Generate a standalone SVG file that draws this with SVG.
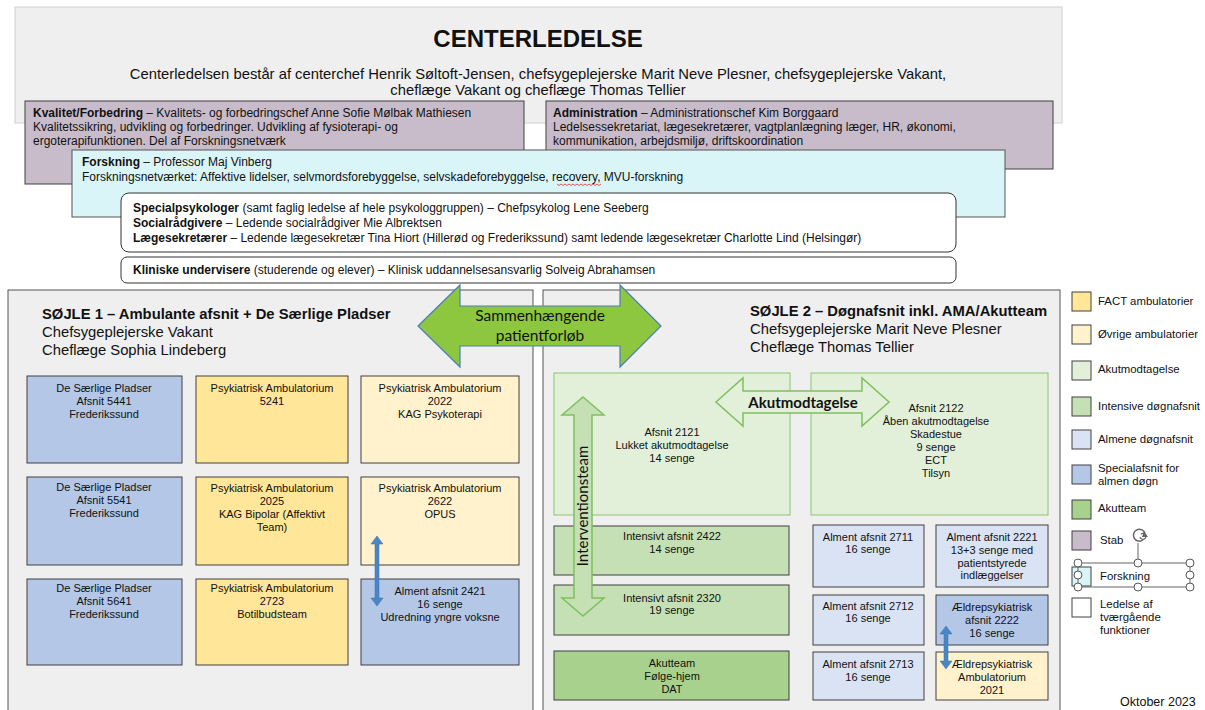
<svg xmlns="http://www.w3.org/2000/svg" width="1205" height="710" viewBox="0 0 1205 710">
<defs>
<style>
text{font-family:"Liberation Sans",Arial,sans-serif;fill:#111}
.b{font-weight:bold}
.s12{font-size:12px}
.s14{font-size:14.8px}
.bx{font-size:11px;text-anchor:middle}
.lg{font-size:11.4px}
.box{stroke:#404040;stroke-width:1}
.fact{fill:#ffe699}
.ovr{fill:#fff2cc}
.akm{fill:#e2f0d9}
.int{fill:#c5e0b4}
.alm{fill:#dae3f3}
.spc{fill:#b4c7e7}
.akt{fill:#a9d18e}
.stab{fill:#c8bccb}
.fors{fill:#d9f5f8}
.cal{font-family:Lato,"Open Sans",sans-serif}
.hd{fill:#fff;stroke:#555;stroke-width:1}
</style>
</defs>

<g id="centerledelse">
<rect x="15" y="7" width="1047" height="116" fill="#efefef" stroke="#d0d0d0"/>
<text x="538" y="47" text-anchor="middle" class="b" font-size="24">CENTERLEDELSE</text>
<text x="538" y="79" text-anchor="middle" class="s14">Centerledelsen består af centerchef Henrik Søltoft-Jensen, chefsygeplejerske Marit Neve Plesner, chefsygeplejerske Vakant,</text>
<text x="538" y="95" text-anchor="middle" class="s14">cheflæge Vakant og cheflæge Thomas Tellier</text>
</g>

<g id="kvalitet">
<rect x="25" y="101" width="499" height="83" class="box stab"/>
<text x="33" y="117" class="s12"><tspan class="b">Kvalitet/Forbedring</tspan> – Kvalitets- og forbedringschef Anne Sofie Mølbak Mathiesen</text>
<text x="33" y="131" class="s12">Kvalitetssikring, udvikling og forbedringer. Udvikling af fysioterapi- og</text>
<text x="33" y="145" class="s12">ergoterapifunktionen. Del af Forskningsnetværk</text>
</g>

<g id="administration">
<rect x="546" y="101" width="507" height="68" class="box stab"/>
<text x="553" y="117" class="s12"><tspan class="b">Administration</tspan> – Administrationschef Kim Borggaard</text>
<text x="553" y="131" class="s12">Ledelsessekretariat, lægesekretærer, vagtplanlægning læger, HR, økonomi,</text>
<text x="553" y="145" class="s12">kommunikation, arbejdsmiljø, driftskoordination</text>
</g>

<g id="forskning">
<rect x="72" y="150" width="933" height="67" class="fors" stroke="#555" stroke-width="1"/>
<text x="82" y="166" class="s12"><tspan class="b">Forskning</tspan> – Professor Maj Vinberg</text>
<text x="82" y="181" class="s12">Forskningsnetværket: Affektive lidelser, selvmordsforebyggelse, selvskadeforebyggelse, recovery, MVU-forskning</text>
<path d="M557 184 l2 1.5 l2 -1.5 l2 1.5 l2 -1.5 l2 1.5 l2 -1.5 l2 1.5 l2 -1.5 l2 1.5 l2 -1.5 l2 1.5 l2 -1.5 l2 1.5 l2 -1.5 l2 1.5 l2 -1.5 l2 1.5 l2 -1.5 l2 1.5 l2 -1.5 l2 1.5 l2 -1.5" fill="none" stroke="#e03030" stroke-width="0.8"/>
</g>

<g id="tvaergaaende">
<rect x="121" y="193" width="835" height="59" rx="8" fill="#fff" stroke="#333"/>
<text x="133" y="212" class="s12"><tspan class="b">Specialpsykologer</tspan> (samt faglig ledelse af hele psykologgruppen) – Chefpsykolog Lene Seeberg</text>
<text x="133" y="227" class="s12"><tspan class="b">Socialrådgivere</tspan> – Ledende socialrådgiver Mie Albrektsen</text>
<text x="133" y="242" class="s12"><tspan class="b">Lægesekretærer</tspan> – Ledende lægesekretær Tina Hiort (Hillerød og Frederikssund) samt ledende lægesekretær Charlotte Lind (Helsingør)</text>
</g>

<g id="kliniske">
<rect x="121" y="257" width="835" height="26" rx="6" fill="#fff" stroke="#333"/>
<text x="133" y="274" class="s12"><tspan class="b">Kliniske undervisere</tspan> (studerende og elever) – Klinisk uddannelsesansvarlig Solveig Abrahamsen</text>
</g>

<g id="soejle1">
<rect x="8" y="290" width="525" height="425" fill="#efefef" stroke="#555"/>
<text x="42" y="319" class="b s14">SØJLE 1 – Ambulante afsnit + De Særlige Pladser</text>
<text x="42" y="337" class="s14">Chefsygeplejerske Vakant</text>
<text x="42" y="355" class="s14">Cheflæge Sophia Lindeberg</text>
</g>

<g id="soejle2">
<rect x="543" y="290" width="517" height="425" fill="#efefef" stroke="#555"/>
<text x="750" y="316" class="b s14">SØJLE 2 – Døgnafsnit inkl. AMA/Akutteam</text>
<text x="750" y="334" class="s14">Chefsygeplejerske Marit Neve Plesner</text>
<text x="750" y="352" class="s14">Cheflæge Thomas Tellier</text>
</g>

<g id="afsnit5441">
<rect x="27" y="376" width="155" height="87" class="box spc"/>
<text class="bx" x="104" y="392">De Særlige Pladser</text>
<text class="bx" x="104" y="405">Afsnit 5441</text>
<text class="bx" x="104" y="418">Frederikssund</text>
</g>
<g id="amb5241">
<rect x="196" y="376" width="152" height="87" class="box fact"/>
<text class="bx" x="272" y="392">Psykiatrisk Ambulatorium</text>
<text class="bx" x="272" y="405">5241</text>
</g>
<g id="amb2022">
<rect x="361" y="376" width="158" height="87" class="box ovr"/>
<text class="bx" x="440" y="392">Psykiatrisk Ambulatorium</text>
<text class="bx" x="440" y="405">2022</text>
<text class="bx" x="440" y="418">KAG Psykoterapi</text>
</g>

<g id="afsnit5541">
<rect x="27" y="477" width="155" height="88" class="box spc"/>
<text class="bx" x="104" y="491">De Særlige Pladser</text>
<text class="bx" x="104" y="504">Afsnit 5541</text>
<text class="bx" x="104" y="517">Frederikssund</text>
</g>
<g id="amb2025">
<rect x="196" y="477" width="152" height="88" class="box fact"/>
<text class="bx" x="272" y="492">Psykiatrisk Ambulatorium</text>
<text class="bx" x="272" y="505">2025</text>
<text class="bx" x="272" y="518">KAG Bipolar (Affektivt</text>
<text class="bx" x="272" y="531">Team)</text>
</g>
<g id="amb2622">
<rect x="361" y="477" width="158" height="88" class="box ovr"/>
<text class="bx" x="440" y="492">Psykiatrisk Ambulatorium</text>
<text class="bx" x="440" y="505">2622</text>
<text class="bx" x="440" y="518">OPUS</text>
</g>

<g id="afsnit5641">
<rect x="27" y="579" width="155" height="86" class="box spc"/>
<text class="bx" x="104" y="592">De Særlige Pladser</text>
<text class="bx" x="104" y="605">Afsnit 5641</text>
<text class="bx" x="104" y="618">Frederikssund</text>
</g>
<g id="amb2723">
<rect x="196" y="579" width="152" height="86" class="box fact"/>
<text class="bx" x="272" y="592">Psykiatrisk Ambulatorium</text>
<text class="bx" x="272" y="605">2723</text>
<text class="bx" x="272" y="618">Botilbudsteam</text>
</g>
<g id="afsnit2421">
<rect x="361" y="579" width="158" height="86" class="box spc"/>
<text class="bx" x="440" y="595">Alment afsnit 2421</text>
<text class="bx" x="440" y="608">16 senge</text>
<text class="bx" x="440" y="621">Udredning yngre voksne</text>
</g>

<g id="afsnit2121">
<rect x="554" y="373" width="236" height="142" class="akm" stroke="#8cc66e"/>
<text class="bx" x="672" y="436">Afsnit 2121</text>
<text class="bx" x="672" y="449">Lukket akutmodtagelse</text>
<text class="bx" x="672" y="462">14 senge</text>
</g>
<g id="afsnit2122">
<rect x="811" y="373" width="237" height="142" class="akm" stroke="#8cc66e"/>
<text class="bx" x="936" y="412">Afsnit 2122</text>
<text class="bx" x="936" y="425">Åben akutmodtagelse</text>
<text class="bx" x="936" y="438">Skadestue</text>
<text class="bx" x="936" y="451">9 senge</text>
<text class="bx" x="936" y="464">ECT</text>
<text class="bx" x="936" y="477">Tilsyn</text>
</g>

<g id="afsnit2422">
<rect x="554" y="526" width="235" height="49" class="box int"/>
<text class="bx" x="672" y="540">Intensivt afsnit 2422</text>
<text class="bx" x="672" y="553">14 senge</text>
</g>
<g id="afsnit2320">
<rect x="554" y="585" width="235" height="50" class="box int"/>
<text class="bx" x="672" y="602">Intensivt afsnit 2320</text>
<text class="bx" x="672" y="614">19 senge</text>
</g>
<g id="akutteam">
<rect x="554" y="651" width="235" height="49" class="box akt"/>
<text class="bx" x="672" y="667">Akutteam</text>
<text class="bx" x="672" y="680">Følge-hjem</text>
<text class="bx" x="672" y="693">DAT</text>
</g>

<g id="afsnit2711">
<rect x="813" y="525" width="111" height="62" class="box alm"/>
<text class="bx" x="868" y="541">Alment afsnit 2711</text>
<text class="bx" x="868" y="553">16 senge</text>
</g>
<g id="afsnit2221">
<rect x="936" y="525" width="112" height="62" class="box alm"/>
<text class="bx" x="992" y="541">Alment afsnit 2221</text>
<text class="bx" x="992" y="554">13+3 senge med</text>
<text class="bx" x="992" y="567">patientstyrede</text>
<text class="bx" x="992" y="579">indlæggelser</text>
</g>
<g id="afsnit2712">
<rect x="813" y="595" width="111" height="50" class="box alm"/>
<text class="bx" x="868" y="610">Alment afsnit 2712</text>
<text class="bx" x="868" y="622">16 senge</text>
</g>
<g id="afsnit2222">
<rect x="936" y="595" width="112" height="50" class="box spc"/>
<text class="bx" x="992" y="611">Ældrepsykiatrisk</text>
<text class="bx" x="992" y="624">afsnit 2222</text>
<text class="bx" x="992" y="637">16 senge</text>
</g>
<g id="afsnit2713">
<rect x="813" y="652" width="111" height="48" class="box alm"/>
<text class="bx" x="868" y="668">Alment afsnit 2713</text>
<text class="bx" x="868" y="681">16 senge</text>
</g>
<g id="amb2021">
<rect x="936" y="652" width="112" height="48" class="box ovr"/>
<text class="bx" x="992" y="668">Ældrepsykiatrisk</text>
<text class="bx" x="992" y="681">Ambulatorium</text>
<text class="bx" x="992" y="694">2021</text>
</g>

<g id="connectors">
<polygon points="418,326 460,285 460,306 620,306 620,285 661,326 620,367 620,346 460,346 460,367" fill="#8dc63f" stroke="#4a7ebb" stroke-width="1.2"/>
<text x="540" y="321" text-anchor="middle" class="cal" font-size="15.5" fill="#1a2a10">Sammenhængende</text>
<text x="540" y="341" text-anchor="middle" class="cal" font-size="15.5" fill="#1a2a10">patientforløb</text>

<polygon points="716,402 743,378 743,391 862,391 862,378 889,402 862,426 862,413 743,413 743,426" fill="#e2f0d9" stroke="#7fbf5f" stroke-width="1.5"/>
<text x="803" y="408" text-anchor="middle" class="cal b" font-size="15">Akutmodtagelse</text>

<polygon points="583,397 604,415 592,415 592,598 604,598 583,616 562,598 574,598 574,415 562,415" fill="#c5e0b4" stroke="#7fbf5f" stroke-width="1.5"/>
<text transform="translate(588,506) rotate(-90)" text-anchor="middle" class="cal" font-size="15">Interventionsteam</text>

<polygon points="377,536 383,544 379,544 379,598 383,598 377,606 371,598 375,598 375,544 371,544" fill="#4a86c6" stroke="#3a70aa" stroke-width="0.5"/>
<polygon points="946,626 952,634 948,634 948,661 952,661 946,669 940,661 944,661 944,634 940,634" fill="#4a86c6" stroke="#3a70aa" stroke-width="0.5"/>
</g>

<g id="legend">
<rect x="1072" y="292" width="19" height="19" class="box fact"/>
<text x="1098" y="305" class="lg">FACT ambulatorier</text>
<rect x="1072" y="325" width="19" height="19" class="box ovr"/>
<text x="1098" y="338" class="lg">Øvrige ambulatorier</text>
<rect x="1072" y="361" width="19" height="19" class="box akm"/>
<text x="1098" y="373" class="lg">Akutmodtagelse</text>
<rect x="1072" y="397" width="19" height="19" class="box int"/>
<text x="1098" y="410" class="lg">Intensive døgnafsnit</text>
<rect x="1072" y="430" width="19" height="19" class="box alm"/>
<text x="1098" y="443" class="lg">Almene døgnafsnit</text>
<rect x="1072" y="465" width="19" height="19" class="box spc"/>
<text x="1098" y="472" class="lg">Specialafsnit for</text>
<text x="1098" y="485" class="lg">almen døgn</text>
<rect x="1072" y="500" width="19" height="19" class="box akt"/>
<text x="1098" y="512" class="lg">Akutteam</text>
<rect x="1072" y="531" width="19" height="19" class="box stab"/>
<text x="1100" y="544" class="lg">Stab</text>
<rect x="1072" y="567" width="19" height="19" class="box fors"/>
<text x="1100" y="580" class="lg">Forskning</text>
<rect x="1072" y="598" width="19" height="19" class="box" fill="#fff"/>
<text x="1100" y="608" class="lg">Ledelse af</text>
<text x="1100" y="621" class="lg">tværgående</text>
<text x="1100" y="634" class="lg">funktioner</text>
<text x="1120" y="706" font-size="12.5">Oktober  2023</text>
</g>

<g id="selection-handles">
<rect x="1078" y="563" width="112" height="24" fill="none" stroke="#666" stroke-width="1"/>
<line x1="1138" y1="563" x2="1138" y2="543" stroke="#666"/>
<path d="M1143 540 a6 6 0 1 1 2 -7" fill="none" stroke="#666" stroke-width="1.5"/>
<path d="M1141 534 a3 3 0 1 1 -1 3" fill="none" stroke="#666" stroke-width="1.2"/>
<polygon points="1144,531 1148,537 1142,537" fill="#666"/>
<circle cx="1078" cy="563" r="4" class="hd"/>
<circle cx="1138" cy="563" r="4" class="hd"/>
<circle cx="1190" cy="563" r="4" class="hd"/>
<circle cx="1078" cy="575" r="4" class="hd"/>
<circle cx="1190" cy="575" r="4" class="hd"/>
<circle cx="1078" cy="587" r="4" class="hd"/>
<circle cx="1138" cy="587" r="4" class="hd"/>
<circle cx="1190" cy="587" r="4" class="hd"/>
</g>
</svg>
